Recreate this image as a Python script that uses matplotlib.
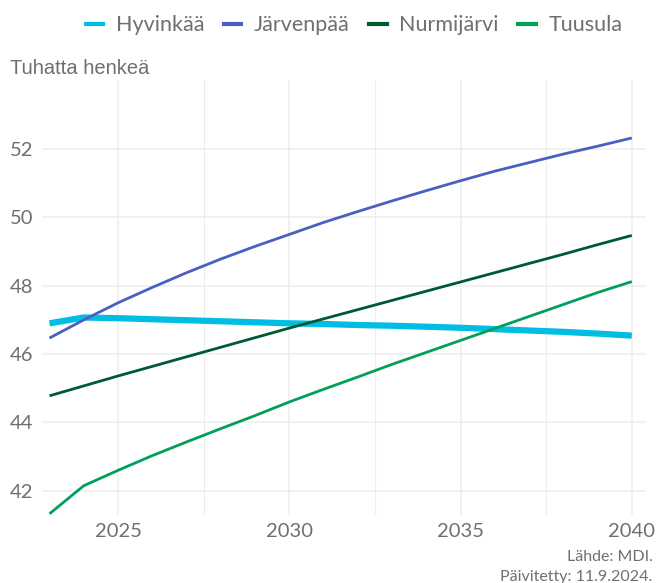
import numpy as np
import matplotlib.pyplot as plt
from matplotlib.lines import Line2D

vuodet = np.arange(2023, 2041)
hyvinkaa = [46.90, 47.07, 47.05, 47.02, 46.99, 46.96, 46.93, 46.90, 46.88,
            46.85, 46.83, 46.80, 46.77, 46.73, 46.69, 46.65, 46.60, 46.54]
jarvenpaa = [46.47, 47.00, 47.50, 47.95, 48.38, 48.78, 49.15, 49.50, 49.85,
             50.17, 50.48, 50.78, 51.07, 51.35, 51.60, 51.85, 52.08, 52.32]
nurmijarvi = [44.78, 45.07, 45.36, 45.64, 45.92, 46.20, 46.48, 46.76, 47.03,
              47.30, 47.57, 47.84, 48.11, 48.38, 48.65, 48.92, 49.20, 49.47]
tuusula = [41.33, 42.15, 42.60, 43.03, 43.43, 43.82, 44.20, 44.60, 44.97,
           45.33, 45.70, 46.05, 46.40, 46.75, 47.10, 47.45, 47.80, 48.12]

nimet = ['Hyvinkää', 'Järvenpää', 'Nurmijärvi', 'Tuusula']
varit = ['#00bde3', '#4a5fc1', '#005a31', '#00a05b']
paksuus = [4.5, 2.0, 2.0, 2.0]
sarjat = [hyvinkaa, jarvenpaa, nurmijarvi, tuusula]

harmaa = '#6f6f6f'
fig = plt.figure(figsize=(6.56, 5.83), dpi=100)
ax = fig.add_axes([0.064, 0.117, 0.92, 0.746])

for s, c, lw in zip(sarjat, varit, paksuus):
    ax.plot(vuodet, s, color=c, lw=lw, solid_capstyle='butt')

ax.set_xlim(2022.78, 2040.4)
ax.set_ylim(41.3, 54.02)
ax.set_xticks([2025, 2030, 2035, 2040])
ax.set_xticks([2027.5, 2032.5, 2037.5], minor=True)
ax.set_yticks([42, 44, 46, 48, 50, 52])
ax.grid(True, which='major', color='#ededed', lw=1.1)
ax.grid(True, which='minor', axis='x', color='#ededed', lw=0.8)
ax.set_axisbelow(True)
for sp in ax.spines.values():
    sp.set_visible(False)
ax.tick_params(which='both', length=0)
ax.tick_params(axis='x', pad=6, labelsize=14.5, labelcolor=harmaa)
ax.tick_params(axis='y', pad=6, labelsize=14.5, labelcolor=harmaa)
for t in ax.get_xticklabels() + ax.get_yticklabels():
    t.set_fontfamily('Lato')

fig.text(0.015, 0.873, 'Tuhatta henkeä', fontsize=14.5, color=harmaa,
         family='Liberation Sans')

kahvat = [Line2D([], [], color=c, lw=3) for c in varit]
fig.legend(kahvat, nimet, loc='center', bbox_to_anchor=(0.54, 0.957), ncol=4,
           frameon=False, handlelength=0.8, handletextpad=0.6, columnspacing=0.9,
           prop={'family': 'Lato', 'size': 15.5}, labelcolor=harmaa)

fig.text(0.995, 0.038, 'Lähde: MDI.', ha='right', fontsize=11.5, color=harmaa,
         family='Lato')
fig.text(0.995, 0.004, 'Päivitetty: 11.9.2024.', ha='right', fontsize=11.5,
         color=harmaa, family='Lato')

fig.savefig('out.png', dpi=100)
